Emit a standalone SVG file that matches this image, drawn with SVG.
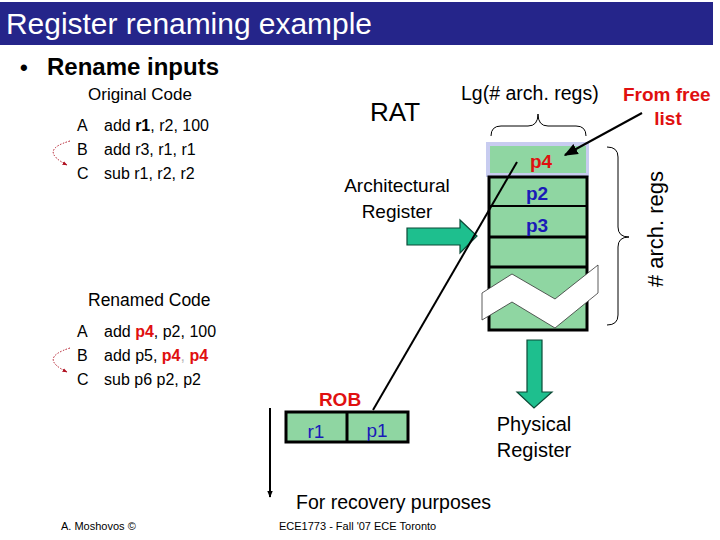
<svg xmlns="http://www.w3.org/2000/svg" width="720" height="540" viewBox="0 0 720 540">
<style>
text{font-family:"Liberation Sans",Arial,sans-serif;fill:#000}
.code{font-size:16px}
.blue{fill:#1A1AB8;font-weight:bold}
.red{fill:#E01010;font-weight:bold}
.cell{fill:#8FD6A2}
.garrow{fill:#1EBF8E;stroke:#0B4A36;stroke-width:1.2}
</style>
<defs>
<marker id="ah" viewBox="0 0 10 10" refX="9" refY="5" markerWidth="7" markerHeight="7" orient="auto-start-reverse"><path d="M0,1 L10,5 L0,9 z" fill="#000"/></marker>
<marker id="sah" viewBox="0 0 10 10" refX="9" refY="5" markerWidth="3.5" markerHeight="3.5" orient="auto"><path d="M0,1 L10,5 L0,9 z" fill="#000"/></marker>
<marker id="rah" viewBox="0 0 10 10" refX="9" refY="5" markerWidth="5" markerHeight="5" orient="auto"><path d="M0,1 L10,5 L0,9 z" fill="#B01020"/></marker>
</defs>
<rect width="720" height="540" fill="#fff"/>
<g id="title">
<rect x="0" y="2" width="713" height="43" fill="#25258A"/>
<text x="6" y="34" font-size="30" textLength="366" lengthAdjust="spacingAndGlyphs" style="fill:#fff">Register renaming example</text>
</g>
<g id="bullet">
<text x="20" y="75" font-size="22" font-weight="bold">•</text>
<text x="47" y="75" font-size="24" font-weight="bold">Rename inputs</text>
</g>
<g id="original-code">
<text x="88" y="100" font-size="17">Original Code</text>
<text class="code" x="77" y="131">A</text><text class="code" x="104" y="131">add <tspan font-weight="bold">r1</tspan>, r2, 100</text>
<text class="code" x="77" y="155">B</text><text class="code" x="104" y="155">add r3, r1, r1</text>
<text class="code" x="77" y="179">C</text><text class="code" x="104" y="179">sub r1, r2, r2</text>
</g>
<g id="renamed-code">
<text x="88" y="306" font-size="17.5">Renamed Code</text>
<text class="code" x="77" y="337">A</text><text class="code" x="104" y="337">add <tspan class="red">p4</tspan>, p2, 100</text>
<text class="code" x="77" y="361">B</text><text class="code" x="104" y="361">add p5, <tspan class="red">p4</tspan><tspan style="fill:#bbb">,</tspan> <tspan class="red">p4</tspan></text>
<text class="code" x="77" y="385">C</text><text class="code" x="104" y="385">sub p6 p2, p2</text>
</g>
<g id="labels">
<text x="370" y="121" font-size="26">RAT</text>
<text x="461" y="100" font-size="19.5">Lg(# arch. regs)</text>
<text x="623" y="101" font-size="19" class="red">From free</text>
<text x="668" y="125" font-size="19" class="red" text-anchor="middle">list</text>
<text x="397" y="192" font-size="19" text-anchor="middle">Architectural</text>
<text x="397" y="218" font-size="19" text-anchor="middle">Register</text>
<text x="534" y="431" font-size="20" text-anchor="middle">Physical</text>
<text x="534" y="457" font-size="20" text-anchor="middle">Register</text>
<text x="296" y="509" font-size="19.5">For recovery purposes</text>
<text transform="translate(663,229) rotate(-90)" font-size="22" text-anchor="middle"># arch. regs</text>
</g>
<g id="register-file">
<rect x="486" y="142" width="103" height="35" fill="#C8CCF0"/>
<rect x="490" y="146" width="96" height="27" class="cell"/>
<text x="541" y="168" font-size="19" class="red" text-anchor="middle">p4</text>
<rect x="489" y="177" width="98" height="153" class="cell" stroke="#000" stroke-width="3"/>
<line x1="489" y1="206" x2="587" y2="206" stroke="#000" stroke-width="2"/>
<line x1="489" y1="237" x2="587" y2="237" stroke="#000" stroke-width="3"/>
<line x1="489" y1="267" x2="587" y2="267" stroke="#000" stroke-width="3"/>
<text x="537" y="200" font-size="19" class="blue" text-anchor="middle">p2</text>
<text x="537" y="232" font-size="19" class="blue" text-anchor="middle">p3</text>
<polygon points="482,293 512,274 555,299 598,265 598,293 555,328 512,302 482,320" fill="#fff" stroke="#333" stroke-width="0.8"/>
</g>
<g id="braces" fill="none" stroke="#000" stroke-width="1">
<path d="M491,136 Q491,126 501,126 L528,126 Q538,126 538,114 Q538,126 548,126 L576,126 Q586,126 586,136"/>
<path d="M607,147 Q618,147 618,157 L618,227 Q618,237 629,237 Q618,237 618,247 L618,315 Q618,325 607,325"/>
</g>
<g id="rob">
<text x="340" y="406" font-size="19" class="red" text-anchor="middle">ROB</text>
<rect x="286" y="412" width="122" height="30" class="cell" stroke="#000" stroke-width="3"/>
<line x1="347" y1="412" x2="347" y2="442" stroke="#000" stroke-width="3"/>
<text x="316" y="438" font-size="19" text-anchor="middle" style="fill:#1A1AB8">r1</text>
<text x="377" y="437" font-size="19" text-anchor="middle" style="fill:#1A1AB8">p1</text>
</g>
<g id="connectors">
<polygon class="garrow" points="407,228 460,228 460,220 477,236 460,253 460,245 407,245"/>
<polygon class="garrow" points="527,340 542,340 542,392 552,392 534,408 517,392 527,392"/>
<line x1="517" y1="162" x2="373" y2="410" stroke="#000" stroke-width="2"/>
<line x1="642" y1="113" x2="565" y2="155" stroke="#000" stroke-width="2" marker-end="url(#ah)"/>
<line x1="270" y1="408" x2="270" y2="497" stroke="#000" stroke-width="2" marker-end="url(#sah)"/>
<path d="M70,141 Q38,150 67,165" fill="none" stroke="#B01020" stroke-width="1" stroke-dasharray="1.5,1.5" marker-end="url(#rah)"/>
<path d="M70,348 Q38,358 67,372" fill="none" stroke="#B01020" stroke-width="1" stroke-dasharray="1.5,1.5" marker-end="url(#rah)"/>
</g>
<g id="footer">
<text x="61" y="530" font-size="11">A. Moshovos ©</text>
<text x="279" y="530" font-size="11">ECE1773 - Fall '07 ECE Toronto</text>
</g>
</svg>
